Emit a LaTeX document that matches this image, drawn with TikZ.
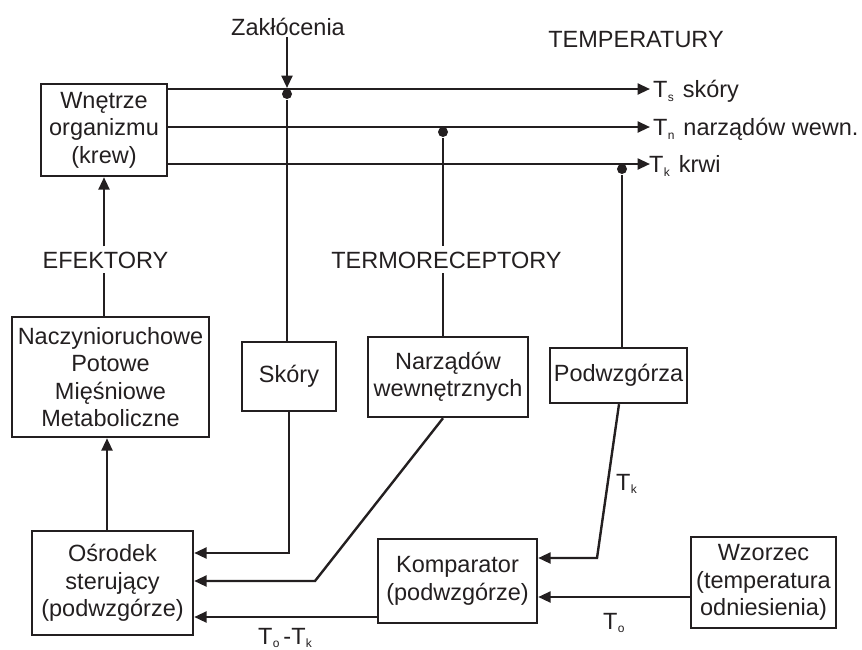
\documentclass[tikz,border=0pt]{standalone}
\usepackage{fontspec}
\setmainfont{Liberation Sans}
\usetikzlibrary{arrows.meta}
\definecolor{ink}{HTML}{231F20}
\newcommand\Tsb[1]{T\kern0.2pt\raisebox{-0.3ex}{\fontsize{12}{12}\selectfont #1}}
\begin{document}
\begin{tikzpicture}[x=1pt,y=-1pt, line width=2.4pt, color=ink,
  box/.style={draw=ink, line width=2.4pt, align=center, inner sep=0pt, text=ink,
    font=\fontsize{23.5}{27.5}\selectfont},
  lbl/.style={font=\fontsize{23.5}{27.5}\selectfont, inner sep=1pt, text=ink},
  gaplbl/.style={lbl, inner sep=4pt},
  arr/.style={-{Triangle[length=12.5pt,width=11pt]}},
  dot/.style={circle, fill=ink, inner sep=0pt, minimum size=10pt}]
\useasboundingbox (0,0) rectangle (862,649);
% boxes
\node[box, minimum width=126pt, minimum height=92pt] (wn) at (104,130) {Wnętrze\\organizmu\\(krew)};
\node[box, minimum width=197pt, minimum height=120pt] (nacz) at (110.5,377) {Naczynioruchowe\\Potowe\\Mięśniowe\\Metaboliczne};
\node[box, minimum width=94pt, minimum height=69pt] (sk) at (289,376.5) {Skóry};
\node[box, minimum width=160pt, minimum height=80pt] (narz) at (448,377) {Narządów\\wewnętrznych};
\node[box, minimum width=137pt, minimum height=55pt] (podw) at (618.5,375.5) {Podwzgórza};
\node[box, minimum width=161pt, minimum height=104pt] (osr) at (112.5,583) {Ośrodek\\sterujący\\(podwzgórze)};
\node[box, minimum width=159pt, minimum height=84pt] (komp) at (457.5,581) {Komparator\\(podwzgórze)};
\node[box, minimum width=145pt, minimum height=91pt] (wz) at (763.5,582.5) {Wzorzec\\(temperatura\\odniesienia)};
% labels
\node[lbl, anchor=base] (zak) at (288,35) {Zakłócenia};
\node[lbl, anchor=base] (temp) at (636,47) {TEMPERATURY};
\node[gaplbl, anchor=base] (efek) at (105.5,268) {EFEKTORY};
\node[gaplbl, anchor=base] (term) at (446.5,268) {TERMORECEPTORY};
\node[lbl, anchor=base west] (lts) at (651,97.5) {\Tsb{s}\hspace{9pt}skóry};
\node[lbl, anchor=base west] (ltn) at (651,135.5) {\Tsb{n}\hspace{9pt}narządów wewn.};
\node[lbl, anchor=base west] (ltk) at (647,172.5) {\Tsb{k}\hspace{9pt}krwi};
\node[lbl, anchor=base west] (lk) at (614,490) {\Tsb{k}};
\node[lbl, anchor=base west] (lo) at (601,629) {\Tsb{o}};
\node[lbl, anchor=base west] (lok) at (256,644) {\Tsb{o}\hspace{4pt}-\Tsb{k}};
% outputs of Wnetrze
\coordinate (ts) at (650,89);
\coordinate (tn) at (650,127);
\coordinate (tk) at (650,164);
\draw[arr] (wn.east |- ts) -- (ts);
\draw[arr] (wn.east |- tn) -- (tn);
\draw[arr] (wn.east |- tk) -- (tk);
% disturbance
\coordinate (zin) at (287,88);
\draw[arr] (zak.south -| zin) -- (zin);
% taps
\node[dot] (d1) at (287,94) {};
\node[dot] (d2) at (443,132) {};
\node[dot] (d3) at (622,169) {};
\draw (d1) -- (d1 |- sk.north);
\draw (d2) -- (d2 |- term.north);
\draw (d2 |- term.south) -- (d2 |- narz.north);
\draw (d3) -- (d3 |- podw.north);
% effectors
\draw[arr] (efek.north -| wn.south) -- (wn.south);
\draw (nacz.north -| wn.south) -- (efek.south -| wn.south);
\coordinate (oa) at (107,0);
\draw[arr] (oa |- osr.north) -- (oa |- nacz.south);
% receptors to centre
\coordinate (c1) at (289,553);
\draw[arr] (sk.south -| c1) -- (c1) -- (osr.east |- c1);
\coordinate (c2) at (315,581);
\draw[arr] (d2 |- narz.south) -- (c2) -- (osr.east |- c2);
\coordinate (c3) at (597,558);
\coordinate (p0) at (619,0);
\draw[arr] (p0 |- podw.south) -- (c3) -- (komp.east |- c3);
% comparator and reference
\coordinate (c4) at (0,617);
\draw[arr] (komp.west |- c4) -- (osr.east |- c4);
\coordinate (c5) at (0,597);
\draw[arr] (wz.west |- c5) -- (komp.east |- c5);
\end{tikzpicture}
\end{document}
